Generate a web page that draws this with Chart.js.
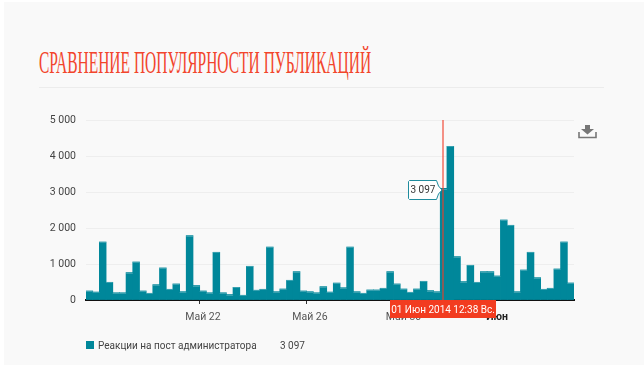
<!DOCTYPE html>
<html lang="ru">
<head>
<meta charset="utf-8">
<title>Сравнение популярности публикаций</title>
<script src="https://cdn.jsdelivr.net/npm/chart.js@4"></script>
<style>
  html, body { margin: 0; padding: 0; background: #fff; }
  #page { position: relative; width: 644px; height: 377px; overflow: hidden; font-family: Roboto, sans-serif; }
  #panel { position: absolute; left: 4px; top: 2px; right: 0; height: 363px; background: #f9f9f9; }
  #title {
    position: absolute; left: 39px; top: 45px; margin: 0; white-space: nowrap;
    font: 400 31px/36px "Liberation Serif", serif; color: #f2452c;
    transform-origin: 0 0; transform: scaleX(0.5);
  }
  #rule { position: absolute; left: 39px; top: 87px; width: 565px; height: 1px; background: #ececec; }
  #chartBox { position: absolute; left: 0; top: 0; width: 644px; height: 377px; }
  #legend { position: absolute; left: 86px; top: 338px; height: 16px; font-size: 10px; line-height: 16px; color: #444; white-space: nowrap; }
  #legend i { position: absolute; left: 0; top: 3px; width: 8px; height: 8px; background: #00879a; }
  #legend .name { position: absolute; left: 12px; top: 0; }
  #legend .val { position: absolute; left: 194px; top: 0; }
  #dl { position: absolute; left: 578px; top: 125px; }
</style>
</head>
<body>
<div id="page">
  <div id="panel"></div>
  <h1 id="title">СРАВНЕНИЕ ПОПУЛЯРНОСТИ ПУБЛИКАЦИЙ</h1>
  <div id="rule"></div>
  <div id="chartBox"><canvas id="chart"></canvas></div>
  <svg id="dl" width="20" height="14" viewBox="0 0 20 14">
    <path d="M7 0h5v4h4l-6.500 5.500L3 4h4z" fill="#777"/>
    <path d="M1 7v5.500h17V7" fill="none" stroke="#777" stroke-width="1.600"/>
  </svg>
  <div id="legend"><i></i><span class="name"></span><span class="val"></span></div>
</div>
<script>
const seriesName = 'Реакции на пост администратора';
const selectedLabel = '3 097';
const selectedDate = '01 Июн 2014 12:38 Вс.';
const selectedIndex = 53;

const yTicks = [0, 1000, 2000, 3000, 4000, 5000];

// one label per bar, only the ticked ones are filled in
const tickLabels = { 17: 'Май 22', 33: 'Май 26', 47: 'Май 30', 61: 'Июн' };

const values = [
  250, 220, 1610, 490, 200, 200, 760, 1055, 250, 185,
  425, 890, 296, 445, 230, 1787, 400, 250, 200, 1324,
  200, 150, 350, 130, 935, 270, 296, 1470, 230, 305,
  546, 787, 250, 230, 200, 370, 220, 470, 340, 1470,
  230, 185, 278, 278, 324, 787, 445, 305, 213, 305,
  518, 260, 230, 3097, 4270, 1204, 510, 963, 490, 787,
  787, 667, 2222, 2074, 230, 833, 1324, 620, 296, 324,
  861, 1611, 472
];

const categories = values.map((_, i) => tickLabels[i] || '');

document.querySelector('#legend .name').textContent = seriesName;
document.querySelector('#legend .val').textContent = selectedLabel;

const fmt = (v) => String(v).replace(/\B(?=(\d{3})+$)/g, ' ');

// light edge along the top of every bar
const topEdgePlugin = {
  id: 'topEdge',
  afterDatasetsDraw(chart) {
    const { ctx } = chart;
    ctx.save();
    ctx.fillStyle = 'rgba(255,255,255,0.22)';
    chart.getDatasetMeta(0).data.forEach((bar) => {
      ctx.fillRect(bar.x - bar.width / 2, Math.round(bar.y), bar.width, 1);
    });
    ctx.restore();
  }
};

// crosshair, value flag and red date box
const markerPlugin = {
  id: 'marker',
  afterDraw(chart) {
    const { ctx, chartArea, scales } = chart;
    const x = Math.round(scales.x.getPixelForValue(selectedIndex)) - 1;
    const y = Math.round(scales.y.getPixelForValue(values[selectedIndex]));
    ctx.save();

    ctx.fillStyle = 'rgba(240,60,40,0.55)';
    ctx.fillRect(x - 1, chartArea.top, 2, chartArea.bottom - chartArea.top);

    // flag
    const right = x - 5, left = right - 30, top = y - 9, h = 20;
    ctx.fillStyle = '#fff';
    ctx.strokeStyle = '#1f8c9e';
    ctx.beginPath();
    ctx.moveTo(left + 1.5, top + 0.5);
    ctx.lineTo(right - 1.5, top + 0.5);
    ctx.lineTo(right + 0.5, top + 6);
    ctx.lineTo(right + 4, top + 10);
    ctx.lineTo(right + 0.5, top + 14);
    ctx.lineTo(right - 1.5, top + h - 0.5);
    ctx.lineTo(left + 1.5, top + h - 0.5);
    ctx.lineTo(left + 0.5, top + h - 1.5);
    ctx.lineTo(left + 0.5, top + 1.5);
    ctx.closePath();
    ctx.fill();
    ctx.stroke();
    ctx.fillStyle = '#333';
    ctx.font = '10px Roboto, sans-serif';
    ctx.textAlign = 'center';
    ctx.textBaseline = 'middle';
    ctx.fillText(selectedLabel, left + 15, top + 10);

    // date box
    ctx.fillStyle = '#f23c20';
    ctx.fillRect(x - 53, chartArea.bottom, 106, 18);
    ctx.fillStyle = '#fff';
    ctx.fillText(selectedDate, x, chartArea.bottom + 10);
    ctx.restore();
  }
};

new Chart(document.getElementById('chart'), {
  type: 'bar',
  data: {
    labels: categories,
    datasets: [{
      label: seriesName,
      data: values,
      backgroundColor: '#00879a',
      borderWidth: 0,
      inflateAmount: 0.4,
      barPercentage: 1,
      categoryPercentage: 1
    }]
  },
  options: {
    responsive: true,
    maintainAspectRatio: false,
    animation: false,
    layout: { padding: { top: 120, right: 70, left: 0, bottom: 0 } },
    plugins: { legend: { display: false }, tooltip: { enabled: false } },
    scales: {
      x: {
        afterFit(axis) { axis.height = 77; },
        grid: {
          drawOnChartArea: false,
          tickLength: 4,
          tickColor: (c) => (tickLabels[c.index] ? '#333' : 'transparent')
        },
        border: { color: '#111', width: 2 },
        ticks: {
          autoSkip: false,
          maxRotation: 0,
          padding: 7,
          color: (c) => (c.tick && c.tick.label === 'Июн' ? '#222' : '#555'),
          font: (c) => ({
            family: 'Roboto, sans-serif',
            size: 10.5,
            weight: c.tick && c.tick.label === 'Июн' ? 'bold' : 'normal'
          })
        }
      },
      y: {
        min: 0,
        max: 5000,
        afterFit(axis) { axis.width = 86; },
        afterBuildTicks(axis) { axis.ticks = yTicks.map((v) => ({ value: v })); },
        grid: { color: '#eeeeee', drawTicks: false },
        border: { display: false },
        ticks: {
          padding: 10,
          color: '#444',
          font: { family: 'Roboto, sans-serif', size: 10.5 },
          callback: (v) => fmt(v)
        }
      }
    }
  },
  plugins: [topEdgePlugin, markerPlugin]
});
</script>
</body>
</html>
